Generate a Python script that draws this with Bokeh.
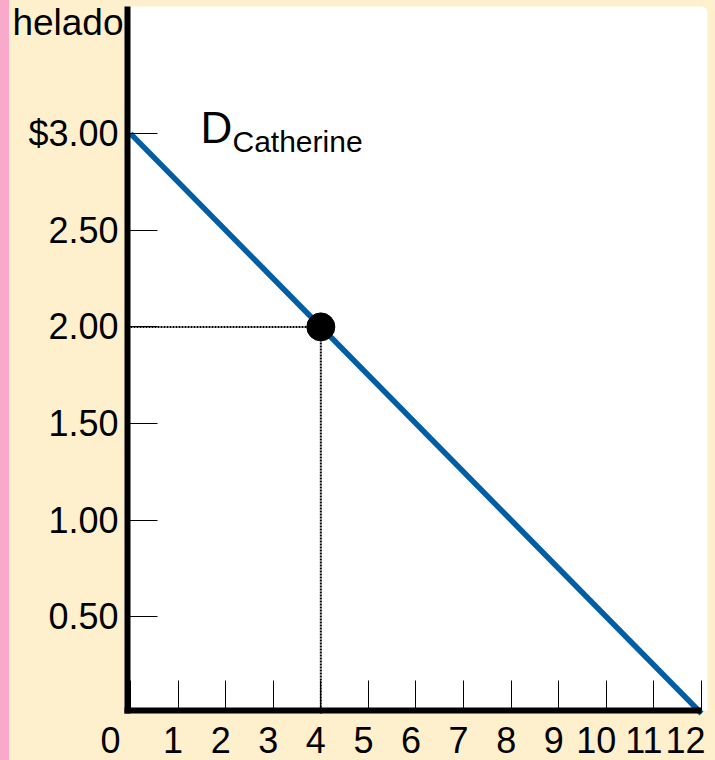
from bokeh.plotting import figure
from bokeh.models import Label, FixedTicker, GlobalInlineStyleSheet, BoxAnnotation
from bokeh.embed import file_html
from bokeh.resources import INLINE

# ---- data ----
quantity = [0, 12]
price = [3.00, 0.00]
point_q = [4]
point_p = [2.00]
x_ticks = [0, 1, 2, 3, 4, 5, 6, 7, 8, 9, 10, 11, 12]
x_tick_labels = ["0", "1", "2", "3", "4", "5", "6", "7", "8", "9", "10", "11", "12"]
y_ticks = [0.5, 1.0, 1.5, 2.0, 2.5, 3.0]
y_tick_labels = ["0.50", "1.00", "1.50", "2.00", "2.50", "$3.00"]
y_title = "helado"
curve_name = "D"
curve_sub = "Catherine"

FONT = "Liberation Sans"
BEIGE = "#FEF0CD"
PINK = "#F9A9C9"
BLUE = "#005DA6"
NB = "\u00a0"
# extra (non-breaking) padding so the labels sit slightly left of their ticks, as in the reference
x_label_pad = {0: 4, 10: 2, 11: 2}

# ---- layout constants (pixel geometry of the reference, expressed in data units) ----
XS, YS = 47.583, 193.3          # px per unit
X_START, X_END = -130 / XS, (715 - 130) / XS
Y_START, Y_END = -(760 - 713) / YS, 713 / YS
X_AXIS_AT = 3 / YS               # horizontal axis line position
Y_AXIS_AT = -3 / XS              # vertical axis line position
AREA_RIGHT, AREA_TOP = 577 / XS, 707 / YS

p = figure(width=715, height=760, x_range=(X_START, X_END), y_range=(Y_START, Y_END),
           output_backend="svg", toolbar_location=None,
           min_border_left=0, min_border_right=0, min_border_top=0, min_border_bottom=0)
p.background_fill_color = None
p.border_fill_color = None
p.outline_line_color = None
p.grid.visible = False

p.stylesheets = [GlobalInlineStyleSheet(css=(
    "html, body { margin: 0; padding: 0; overflow: hidden; "
    f"background: linear-gradient(to right, {PINK} 0px, {PINK} 9px, {BEIGE} 9px); }}"
))]

# white plot area
area = BoxAnnotation(left=Y_AXIS_AT, right=AREA_RIGHT, bottom=X_AXIS_AT, top=AREA_TOP,
                     fill_color="white", fill_alpha=1.0, line_color=None, level="underlay")
if "border_radius" in BoxAnnotation.properties():
    area.border_radius = dict(top_left=0, top_right=6, bottom_right=0, bottom_left=0)
p.add_layout(area)

for ax in (p.xaxis[0], p.yaxis[0]):
    ax.axis_line_width = 6
    ax.axis_line_color = "black"
    ax.major_tick_in = 30
    ax.major_tick_out = 0
    ax.minor_tick_in = 0
    ax.minor_tick_out = 0
    ax.major_tick_line_width = 1
    ax.major_tick_line_color = "black"
    ax.major_label_text_font = FONT
    ax.major_label_text_font_size = "36px"
    ax.major_label_text_color = "black"

p.xaxis.fixed_location = X_AXIS_AT
p.xaxis.bounds = (2 * Y_AXIS_AT, x_ticks[-1])
p.xaxis.ticker = FixedTicker(ticks=x_ticks)
p.xaxis.major_label_overrides = {t: l + NB * x_label_pad.get(t, 1) for t, l in zip(x_ticks, x_tick_labels)}
p.xaxis.major_label_standoff = 9

p.yaxis.fixed_location = Y_AXIS_AT
p.yaxis.bounds = (0, AREA_TOP)
p.yaxis.ticker = FixedTicker(ticks=y_ticks)
p.yaxis.major_label_overrides = {t: l for t, l in zip(y_ticks, y_tick_labels)}
p.yaxis.major_label_standoff = 9

# dotted guides
p.line([0, point_q[0]], [point_p[0], point_p[0]], line_color="black", line_width=2, line_dash="2 1")
p.line([point_q[0], point_q[0]], [0, point_p[0]], line_color="black", line_width=2, line_dash="2 1")

# demand curve
p.line(quantity, price, line_color=BLUE, line_width=5.5)

# point
p.scatter(point_q, point_p, size=28, color="black")

# texts
p.add_layout(Label(x=-7 / XS, y=(713 - 22) / YS, text=y_title, text_align="right", text_baseline="alphabetic",
                   text_font=FONT, text_font_size="37px", text_color="black"))
p.add_layout(Label(x=70 / XS, y=(713 - 127) / YS, text=curve_name, text_align="left", text_baseline="alphabetic",
                   text_font=FONT, text_font_size="44px", text_color="black"))
p.add_layout(Label(x=102 / XS, y=(713 - 141) / YS, text=curve_sub, text_align="left", text_baseline="alphabetic",
                   text_font=FONT, text_font_size="30px", text_color="black"))

open("out.html", "w").write(file_html(p, INLINE))
